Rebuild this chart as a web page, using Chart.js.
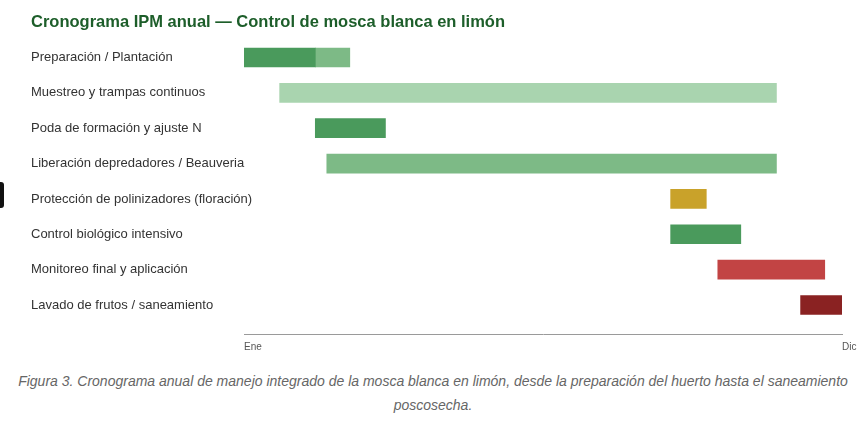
<!DOCTYPE html>
<html>
<head>
<meta charset="utf-8">
<script src="https://cdn.jsdelivr.net/npm/chart.js@4/dist/chart.umd.min.js"></script>
<style>
  html, body { margin: 0; padding: 0; background: #ffffff; }
  #wrap { position: relative; width: 866px; height: 423px; overflow: hidden; }
  #cv { position: absolute; left: 0; top: 0; }
  #tab { position: absolute; left: -4px; top: 182px; width: 8px; height: 26px; background: #111; border-radius: 3px; }
  #caption { position: absolute; left: 0; top: 369px; width: 866px; text-align: center;
    font-family: "Liberation Sans", Arial, sans-serif; font-style: italic; font-size: 14px;
    line-height: 24px; color: #666; }
</style>
</head>
<body>
<div id="wrap">
  <canvas id="cv" width="866" height="360"></canvas>
  <div id="tab"></div>
  <div id="caption">Figura 3. Cronograma anual de manejo integrado de la mosca blanca en limón, desde la preparación del huerto hasta el saneamiento<br>poscosecha.</div>
</div>
<script>
// Categories (tasks)
const categories = [
  "Preparación / Plantación",
  "Muestreo y trampas continuos",
  "Poda de formación y ajuste N",
  "Liberación depredadores / Beauveria",
  "Protección de polinizadores (floración)",
  "Control biológico intensivo",
  "Monitoreo final y aplicación",
  "Lavado de frutos / saneamiento"
];
// Start / end in weeks of the year (0 = Ene, 52 = Dic)
const startWeek = [0, 3.1, 6.2, 7.2, 37.1, 37.1, 41.2, 48.4];
const endWeek   = [6.2, 46.3, 12.3, 46.3, 40.2, 43.2, 50.5, 52];
const barColors = ["#4a9a5c", "#a9d4af", "#4a9a5c", "#7dba86", "#c9a22a", "#4a9a5c", "#c24444", "#8a2222"];
// Second segment of the first task
const extraRow = [0];
const extraStart = [6.2];
const extraEnd = [9.2];
const extraColor = "#7dba86";
// Axis ticks
const tickWeeks = [0, 52];
const tickLabels = ["Ene", "Dic"];

const mainData = categories.map((c, i) => ({ y: i, x: [startWeek[i], endWeek[i]] }));
const extraData = extraRow.map((r, i) => ({ y: r, x: [extraStart[i], extraEnd[i]] }));

new Chart(document.getElementById("cv"), {
  type: "bar",
  data: {
    datasets: [
      { data: mainData, backgroundColor: barColors, borderWidth: 0, barThickness: 19, grouped: false },
      { data: extraData, backgroundColor: extraColor, borderWidth: 0, barThickness: 19, grouped: false }
    ]
  },
  options: {
    indexAxis: "y",
    responsive: false,
    animation: false,
    layout: { padding: { left: 31, right: 24, top: 0, bottom: 0 } },
    plugins: {
      legend: { display: false },
      tooltip: { enabled: false },
      title: {
        display: true,
        text: "Cronograma IPM anual — Control de mosca blanca en limón",
        align: "start",
        color: "#1d5e2a",
        font: { family: "'Liberation Sans', Arial, sans-serif", size: 16.5, weight: "bold" },
        padding: { top: 13, bottom: 7 }
      }
    },
    scales: {
      x: {
        type: "linear",
        min: 0,
        max: 52,
        offset: false,
        afterBuildTicks: (s) => { s.ticks = tickWeeks.map(v => ({ value: v })); },
        ticks: {
          callback: (v) => tickLabels[tickWeeks.indexOf(v)] ?? "",
          align: "start",
          padding: 7,
          maxRotation: 0,
          autoSkip: false,
          color: "#555",
          font: { family: "'Liberation Sans', Arial, sans-serif", size: 10 }
        },
        grid: { display: false, drawTicks: false },
        border: { display: true, color: "#9a9a9a", width: 1 }
      },
      y: {
        type: "linear",
        reverse: true,
        offset: false,
        min: -0.5,
        max: 7.82,
        afterBuildTicks: (s) => { s.ticks = categories.map((c, i) => ({ value: i })); },
        afterFit: (s) => { s.width = 213; },
        ticks: {
          callback: (v) => categories[v] ?? "",
          mirror: true,
          padding: -213,
          autoSkip: false,
          color: "#333",
          font: { family: "'Liberation Sans', Arial, sans-serif", size: 13 }
        },
        grid: { display: false, drawTicks: false, offset: false },
        border: { display: false }
      }
    }
  }
});
</script>
</body>
</html>
